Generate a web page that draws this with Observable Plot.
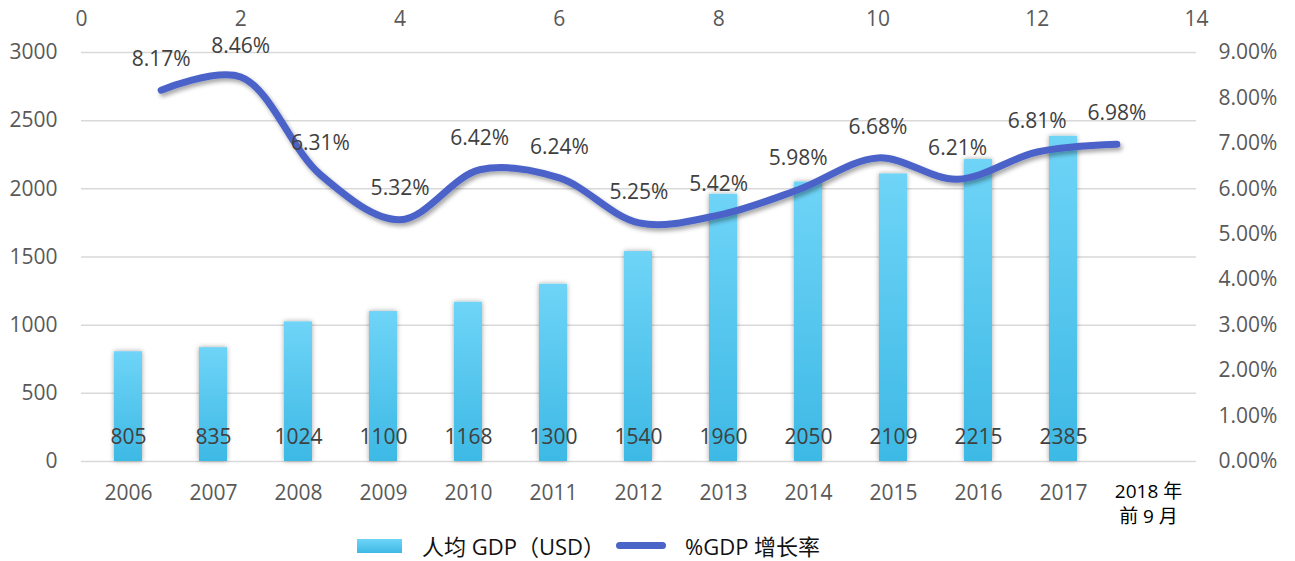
<!DOCTYPE html>
<html>
<head>
<meta charset="utf-8">
<script src="https://cdn.jsdelivr.net/npm/d3@7"></script>
<script src="https://cdn.jsdelivr.net/npm/@observablehq/plot@0.6"></script>
<style>
  html, body { margin: 0; padding: 0; background: #fff; }
  #wrap { position: relative; width: 1295px; height: 561px; font-family: "Open Sans", "Noto Sans", sans-serif; }
  #wrap svg { position: absolute; left: 0; top: 0; overflow: visible; }
  #legend { position: absolute; left: 0; top: 530px; width: 1295px; height: 31px; font-family: "Open Sans", "Noto Sans CJK SC", sans-serif; font-size: 22px; color: #111; }
  .sw1 { position: absolute; left: 357px; top: 9px; width: 45px; height: 14px; background: linear-gradient(#6fd4f7, #3db9e5); }
  .sw2 { position: absolute; left: 616px; top: 12px; width: 50px; height: 7px; border-radius: 4px; background: #4b64c8; }
  .t1 { position: absolute; left: 422px; top: -1px; white-space: nowrap; }
  .t2 { position: absolute; left: 685px; top: -1px; white-space: nowrap; }
</style>
</head>
<body>
<div id="wrap">
  <div id="legend">
    <div class="sw1"></div><div class="t1">人均 GDP（USD）</div>
    <div class="sw2"></div><div class="t2">%GDP 增长率</div>
  </div>
</div>
<script>
const categories = ["2006","2007","2008","2009","2010","2011","2012","2013","2014","2015","2016","2017","2018 年\n前 9 月"];
const barYears = ["2006","2007","2008","2009","2010","2011","2012","2013","2014","2015","2016","2017"];
const gdpPerCapita = [805, 835, 1024, 1100, 1168, 1300, 1540, 1960, 2050, 2109, 2215, 2385];
const growthX = [1,2,3,4,5,6,7,8,9,10,11,12,13];
const growthRate = [0.0817, 0.0846, 0.0631, 0.0532, 0.0642, 0.0624, 0.0525, 0.0542, 0.0598, 0.0668, 0.0621, 0.0681, 0.0698];
const leftTicks = [0, 500, 1000, 1500, 2000, 2500, 3000];
const rightTicks = [0, 0.01, 0.02, 0.03, 0.04, 0.05, 0.06, 0.07, 0.08, 0.09];
const topTicks = [0, 2, 4, 6, 8, 10, 12, 14];

const bars = barYears.map((c, i) => ({cat: c, v: gdpPerCapita[i]}));
const pts = growthX.map((x, i) => ({x, r: growthRate[i]}));

const W = 1295, H = 530;
const M = {marginLeft: 81, marginRight: 99, marginTop: 52, marginBottom: 69};
const wrap = document.getElementById("wrap");
const FS = 21;

const p1 = Plot.plot({
  width: W, height: H, ...M,
  style: {fontFamily: '"Open Sans", "Noto Sans CJK SC", sans-serif', fontSize: FS + "px", background: "transparent"},
  x: {type: "band", domain: categories, paddingInner: 0.67, paddingOuter: 0.335},
  y: {domain: [0, 3000]},
  marks: [
    Plot.gridY(leftTicks, {stroke: "#d9d9d9", strokeOpacity: 1, strokeWidth: 1.5}),
    Plot.barY(bars, {x: "cat", y: "v", fill: "url(#barGrad)"}),
    Plot.text(bars, {x: "cat", y: 0, dy: -24, text: d => String(d.v), fill: "#404040", fontSize: FS}),
    Plot.axisY(leftTicks, {anchor: "left", tickSize: 0, tickPadding: 24, fill: "#595959", fontSize: FS, tickFormat: d => String(d), label: null}),
    Plot.axisX({anchor: "bottom", tickSize: 0, tickPadding: 19, fill: "#595959", fontSize: FS, lineHeight: 1.3, label: null})
  ]
});
wrap.appendChild(p1);

const s1 = d3.select(p1);
const defs1 = s1.insert("defs", ":first-child");
const g = defs1.append("linearGradient").attr("id", "barGrad").attr("x1", 0).attr("y1", 0).attr("x2", 0).attr("y2", 1);
g.append("stop").attr("offset", "0%").attr("stop-color", "#6fd4f7");
g.append("stop").attr("offset", "100%").attr("stop-color", "#3db9e5");
const f1 = defs1.append("filter").attr("id", "barShadow").attr("x", "-50%").attr("y", "-10%").attr("width", "200%").attr("height", "120%");
f1.append("feDropShadow").attr("dx", 0).attr("dy", 0).attr("stdDeviation", 2.5).attr("flood-color", "#000").attr("flood-opacity", 0.35);
s1.selectAll('g[aria-label="bar"] rect').attr("filter", "url(#barShadow)");
s1.selectAll('g[aria-label="x-axis tick label"] text').filter(function() { return this.textContent.startsWith("2018"); })
  .attr("fill", "#000").style("font-size", "19px");

const p2 = Plot.plot({
  width: W, height: H, ...M,
  style: {fontFamily: '"Open Sans", "Noto Sans CJK SC", sans-serif', fontSize: FS + "px", background: "transparent"},
  x: {type: "linear", domain: [0, 14]},
  y: {domain: [0, 0.09]},
  marks: [
    Plot.line(pts, {x: "x", y: "r", stroke: "#4b64c8", strokeWidth: 7, curve: "catmull-rom", strokeLinecap: "round", strokeLinejoin: "round"}),
    Plot.text(pts, {x: "x", y: "r", dy: -31, text: d => d3.format(".2%")(d.r), fill: "#404040", fontSize: FS}),
    Plot.axisX(topTicks, {anchor: "top", tickSize: 0, tickPadding: 27, fill: "#595959", fontSize: FS, label: null}),
    Plot.axisY(rightTicks, {anchor: "right", tickSize: 0, tickPadding: 22, fill: "#595959", fontSize: FS, tickFormat: d3.format(".2%"), label: null})
  ]
});
wrap.appendChild(p2);
const s2 = d3.select(p2);
const defs2 = s2.insert("defs", ":first-child");
const f2 = defs2.append("filter").attr("id", "lineShadow").attr("x", "-10%").attr("y", "-20%").attr("width", "120%").attr("height", "140%");
f2.append("feDropShadow").attr("dx", 2).attr("dy", 3).attr("stdDeviation", 2).attr("flood-color", "#000").attr("flood-opacity", 0.35);
s2.selectAll('g[aria-label="line"] path').attr("filter", "url(#lineShadow)");
</script>
</body>
</html>
